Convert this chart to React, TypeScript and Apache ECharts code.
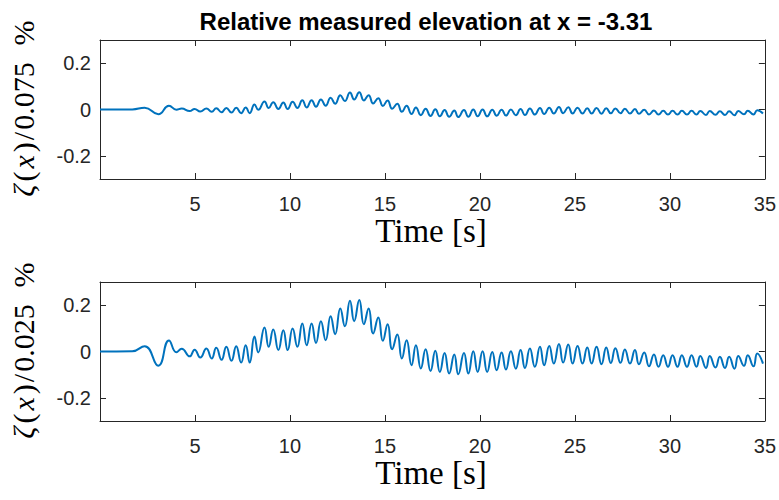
import React, { useEffect, useRef } from "react";
import * as echarts from "echarts";

// Time [s] of the read extrema of the measured signal
const TIMES = [
  0, 1.7, 2.35, 3.07, 3.63, 4.02, 4.3, 4.72, 4.98, 5.28, 5.6, 5.88, 6.12, 6.4, 6.65, 6.92,
  7.17, 7.43, 7.67, 7.88, 8.13, 8.33, 8.66, 8.88, 9.12, 9.39, 9.65, 9.88, 10.14, 10.39,
  10.65, 10.88, 11.14, 11.37, 11.63, 11.88, 12.14, 12.38, 12.65, 12.89, 13.16, 13.38,
  13.65, 13.89, 14.14, 14.38, 14.65, 14.89, 15.14, 15.38, 15.65, 15.89, 16.14, 16.4,
  16.63, 16.89, 17.14, 17.4, 17.65, 17.89, 18.14, 18.38, 18.65, 18.86, 19.16, 19.39,
  19.65, 19.88, 20.14, 20.38, 20.65, 20.88, 21.14, 21.37, 21.63, 21.89, 22.14, 22.37,
  22.63, 22.89, 23.16, 23.38, 23.65, 23.89, 24.16, 24.38, 24.65, 24.88, 25.14, 25.4,
  25.65, 25.88, 26.14, 26.4, 26.65, 26.89, 27.13, 27.4, 27.63, 27.9, 28.16, 28.37,
  28.65, 28.9, 29.16, 29.4, 29.65, 29.9, 30.14, 30.4, 30.63, 30.9, 31.14, 31.4, 31.6,
  31.9, 32.1, 32.4, 32.63, 32.9, 33.12, 33.4, 33.6, 33.9, 34.1, 34.4, 34.6, 34.9,
];

// measured elevation relative to 0.025 (lower panel values)
const ZETA_REL_025 = [
  0, 0.001, 0.023, -0.061, 0.048, -0.003, 0.012, -0.021, 0.008, -0.026, 0.013, -0.03,
  0.016, -0.036, 0.021, -0.04, 0.023, -0.048, 0.027, -0.048, 0.065, -0.004, 0.104, 0.02,
  0.095, 0.006, 0.092, 0.006, 0.099, 0.02, 0.121, 0.027, 0.121, 0.037, 0.131, 0.049,
  0.152, 0.075, 0.186, 0.109, 0.219, 0.131, 0.222, 0.118, 0.186, 0.078, 0.147, 0.046,
  0.118, 0.01, 0.073, -0.03, 0.049, -0.059, 0.027, -0.073, 0.01, -0.084, 0.003, -0.088,
  -0.007, -0.095, -0.013, -0.098, -0.006, -0.095, 0.001, -0.088, 0.001, -0.088, -0.002,
  -0.081, -0.004, -0.078, 0.001, -0.074, 0.006, -0.071, 0.013, -0.066, 0.02, -0.059,
  0.024, -0.052, 0.032, -0.048, 0.03, -0.052, 0.024, -0.052, 0.017, -0.052, 0.02, -0.055,
  0.017, -0.05, 0.014, -0.049, 0.009, -0.052, 0.006, -0.055, -0.004, -0.064, -0.013,
  -0.066, -0.016, -0.066, -0.016, -0.066, -0.016, -0.066, -0.016, -0.066, -0.019, -0.071,
  -0.019, -0.069, -0.023, -0.071, -0.023, -0.074, -0.019, -0.062, -0.016, -0.064, -0.009,
  -0.052,
];

const NORM_TOP = 0.075;
const NORM_BOTTOM = 0.025;

const Y_TICKS = [-0.2, 0, 0.2];

const TITLE = "Relative measured elevation at x = -3.31";
const X_LABEL = "Time [s]";

const AXIS_COLOR = "#262626";
const LINE_COLOR = "#0072BD";

export default function App() {
  const ref = useRef<HTMLDivElement>(null);

  useEffect(() => {
    if (!ref.current) return;
    const chart = echarts.init(ref.current, undefined, { renderer: "svg" });

    const bottomData = TIMES.map((t, i) => [t, ZETA_REL_025[i]]);
    const topData = TIMES.map((t, i) => [t, (ZETA_REL_025[i] * NORM_BOTTOM) / NORM_TOP]);

    const gridTops = [40, 282];
    const gridH = 139;
    const left = 100;
    const width = 665;

    const axisLine = { show: true, onZero: false, lineStyle: { color: AXIS_COLOR, width: 1 } };
    const xAxes: any[] = [];
    const yAxes: any[] = [];
    gridTops.forEach((_, gi) => {
      xAxes.push({
        type: "value",
        gridIndex: gi,
        position: "bottom",
        min: 0,
        max: 35,
        interval: 5,
        axisLine,
        axisTick: { show: true, inside: true, length: 6, lineStyle: { color: AXIS_COLOR } },
        axisLabel: {
          margin: 15,
          color: AXIS_COLOR,
          fontSize: 20,
          lineHeight: 20,
          fontFamily: "Liberation Sans, Arial, sans-serif",
          formatter: (v: number) => (v === 0 ? "" : String(v)),
        },
        splitLine: { show: false },
      });
      xAxes.push({
        type: "value",
        gridIndex: gi,
        position: "top",
        min: 0,
        max: 35,
        interval: 5,
        axisLine,
        axisTick: { show: true, inside: true, length: 6, lineStyle: { color: AXIS_COLOR } },
        axisLabel: { show: false },
        splitLine: { show: false },
      });
      yAxes.push({
        type: "value",
        gridIndex: gi,
        position: "left",
        min: -0.3,
        max: 0.3,
        axisLine,
        axisTick: {
          show: true,
          inside: true,
          length: 6,
          lineStyle: { color: AXIS_COLOR },
          customValues: Y_TICKS,
        },
        axisLabel: {
          margin: 9,
          color: AXIS_COLOR,
          fontSize: 20,
          fontFamily: "Liberation Sans, Arial, sans-serif",
          customValues: Y_TICKS,
          formatter: (v: number) => String(Math.round(v * 10) / 10),
        },
        splitLine: { show: false },
      });
      yAxes.push({
        type: "value",
        gridIndex: gi,
        position: "right",
        min: -0.3,
        max: 0.3,
        axisLine,
        axisTick: {
          show: true,
          inside: true,
          length: 6,
          lineStyle: { color: AXIS_COLOR },
          customValues: Y_TICKS,
        },
        axisLabel: { show: false },
        splitLine: { show: false },
      });
    });

    const serif = "Liberation Serif, Times New Roman, serif";
    const yLabel = (norm: string, cy: number) => ({
      type: "text",
      x: 23,
      y: cy,
      rotation: Math.PI / 2,
      style: {
        text: `{i|ζ}{p|(}{i|x}{p|)}{p|/}{p|${norm}}{g|%}`,
        fill: "#000",
        font: `30px ${serif}`,
        align: "center",
        verticalAlign: "middle",
        rich: {
          i: { fontStyle: "italic", fontSize: 30, fontFamily: serif, fill: "#000", padding: [0, 2, 0, 2] },
          p: { fontSize: 30, fontFamily: serif, fill: "#000", padding: [0, 1, 0, 1] },
          g: { fontSize: 30, fontFamily: serif, fill: "#000", padding: [0, 0, 0, 16] },
        },
      },
    });

    const xLabel = (cy: number) => ({
      type: "text",
      x: 431,
      y: cy,
      style: {
        text: X_LABEL,
        fill: "#000",
        font: `33px ${serif}`,
        lineHeight: 27,
        align: "center",
        verticalAlign: "middle",
      },
    });

    const series = [topData, bottomData].map((data, i) => ({
      type: "line",
      xAxisIndex: i * 2,
      yAxisIndex: i * 2,
      data,
      showSymbol: false,
      smooth: 0.5,
      lineStyle: { color: LINE_COLOR, width: 2 },
      itemStyle: { color: LINE_COLOR },
    }));

    chart.setOption({
      animation: false,
      backgroundColor: "#fff",
      grid: gridTops.map((top) => ({ left, top, width, height: gridH, show: false })),
      xAxis: xAxes,
      yAxis: yAxes,
      series,
      graphic: [
        {
          type: "text",
          x: 426,
          y: 21,
          style: {
            text: TITLE,
            fill: "#000",
            font: "bold 24px Liberation Sans, Arial, sans-serif",
            align: "center",
            verticalAlign: "middle",
          },
        },
        xLabel(231),
        xLabel(473),
        yLabel(String(NORM_TOP), 109.5),
        yLabel(String(NORM_BOTTOM), 351.5),
      ],
    });

    return () => chart.dispose();
  }, []);

  return (
    <div
      ref={ref}
      style={{ position: "fixed", left: 0, top: 0, width: 779, height: 500, background: "#fff" }}
    />
  );
}
